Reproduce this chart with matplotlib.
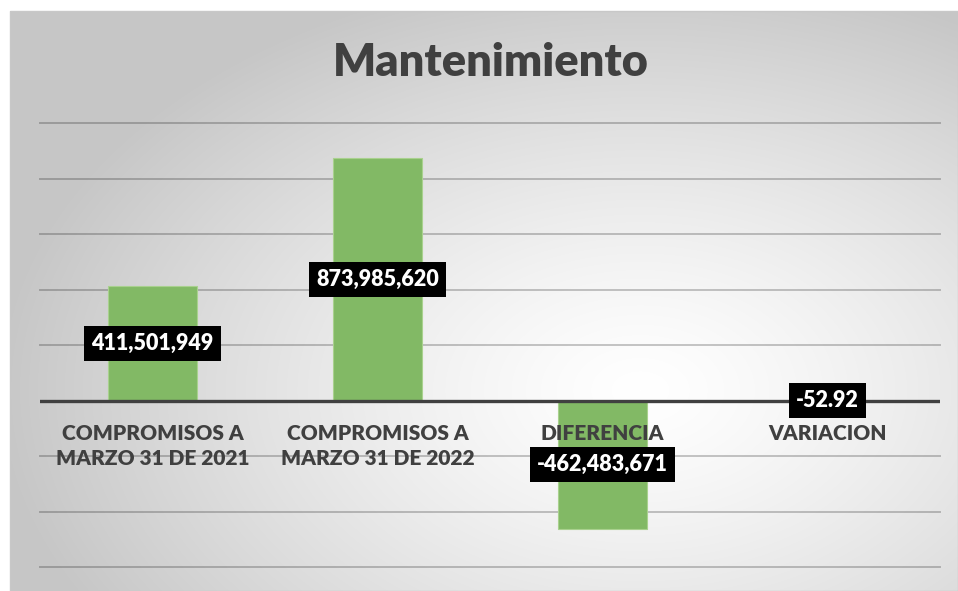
import numpy as np
import matplotlib
matplotlib.use("Agg")
import matplotlib.pyplot as plt
from matplotlib.patches import Rectangle
from matplotlib.transforms import offset_copy

plt.rcParams['font.family'] = ['Lato', 'DejaVu Sans']

title = "Mantenimiento"
categories = ["COMPROMISOS A\nMARZO 31 DE 2021", "COMPROMISOS A\nMARZO 31 DE 2022",
              "DIFERENCIA", "VARIACION"]
values = [411501949, 873985620, -462483671, -52.92]
value_labels = ["411,501,949", "873,985,620", "-462,483,671", "-52.92"]
y_ticks = [-600e6, -400e6, -200e6, 0, 200e6, 400e6, 600e6, 800e6, 1000e6]

W, H = 958, 591
fig = plt.figure(figsize=(W / 100, H / 100), dpi=100)
fig.patch.set_facecolor('white')

# background gradient panel
bg = fig.add_axes([0, 0, 1, 1])
bg.set_xlim(0, W)
bg.set_ylim(H, 0)
bg.axis('off')
yy, xx = np.mgrid[0:H, 0:W]
cx, cy = 640, 390
r = np.sqrt(((xx - cx) / 500.0) ** 2 + ((yy - cy) / 330.0) ** 2)
r = np.clip(r, 0, 1.45)
v = 1.0 - 0.16 * r ** 1.3
v = np.clip(v, 0.78, 1.0)
img = np.dstack([v, v, v])
x0, y0, x1, y1 = 10, 11, W, H
bg.imshow(img[y0:y1, x0:x1], extent=(x0, x1, y1, y0), aspect='auto', zorder=0,
          interpolation='bilinear')
bg.add_patch(Rectangle((x0, y0), x1 - x0, y1 - y0, fill=False, edgecolor='#c8c8c8', lw=1.0, zorder=1))

# main axes
left, right = 40 / W, 940 / W
bottom, top = 1 - 567 / H, 1 - 123 / H
ax = fig.add_axes([left, bottom, right - left, top - bottom])
ax.set_facecolor('none')
ax.set_xlim(-0.5, len(categories) - 0.5)
ax.set_ylim(y_ticks[0], y_ticks[-1])
for s in ax.spines.values():
    s.set_visible(False)
ax.set_xticks([])
ax.set_yticks([])

for t in y_ticks:
    if t == 0:
        continue
    ax.axhline(t, color='black', alpha=0.22, lw=1.4, zorder=1, clip_on=False)
ax.axhline(0, color='#404040', lw=2.4, zorder=3)

x = np.arange(len(categories))
ax.bar(x, values, width=0.395, color='#82b965', edgecolor='#a9d18e', lw=0.8, zorder=2)

WEIGHT = 'heavy'

# category labels
lab_tr = offset_copy(ax.transData, fig=fig, x=0, y=-23, units='dots')
for xi, c in zip(x, categories):
    ax.text(xi, 0, c, transform=lab_tr, ha='center', va='top', fontsize=15,
            fontweight=WEIGHT, color='#404040', linespacing=1.38, zorder=4)

# data labels
for xi, val, lab in zip(x, values, value_labels):
    ax.text(xi, val / 2, lab, ha='center', va='center', fontsize=15.5, fontweight=WEIGHT,
            color='white', zorder=5,
            bbox=dict(boxstyle='square,pad=0.32', facecolor='black', edgecolor='none'))

fig.text(491 / W, 1 - 63 / H, title, ha='center', va='center', fontsize=32.5,
         fontweight=WEIGHT, color='#404040')

fig.savefig('out.png', dpi=100)
